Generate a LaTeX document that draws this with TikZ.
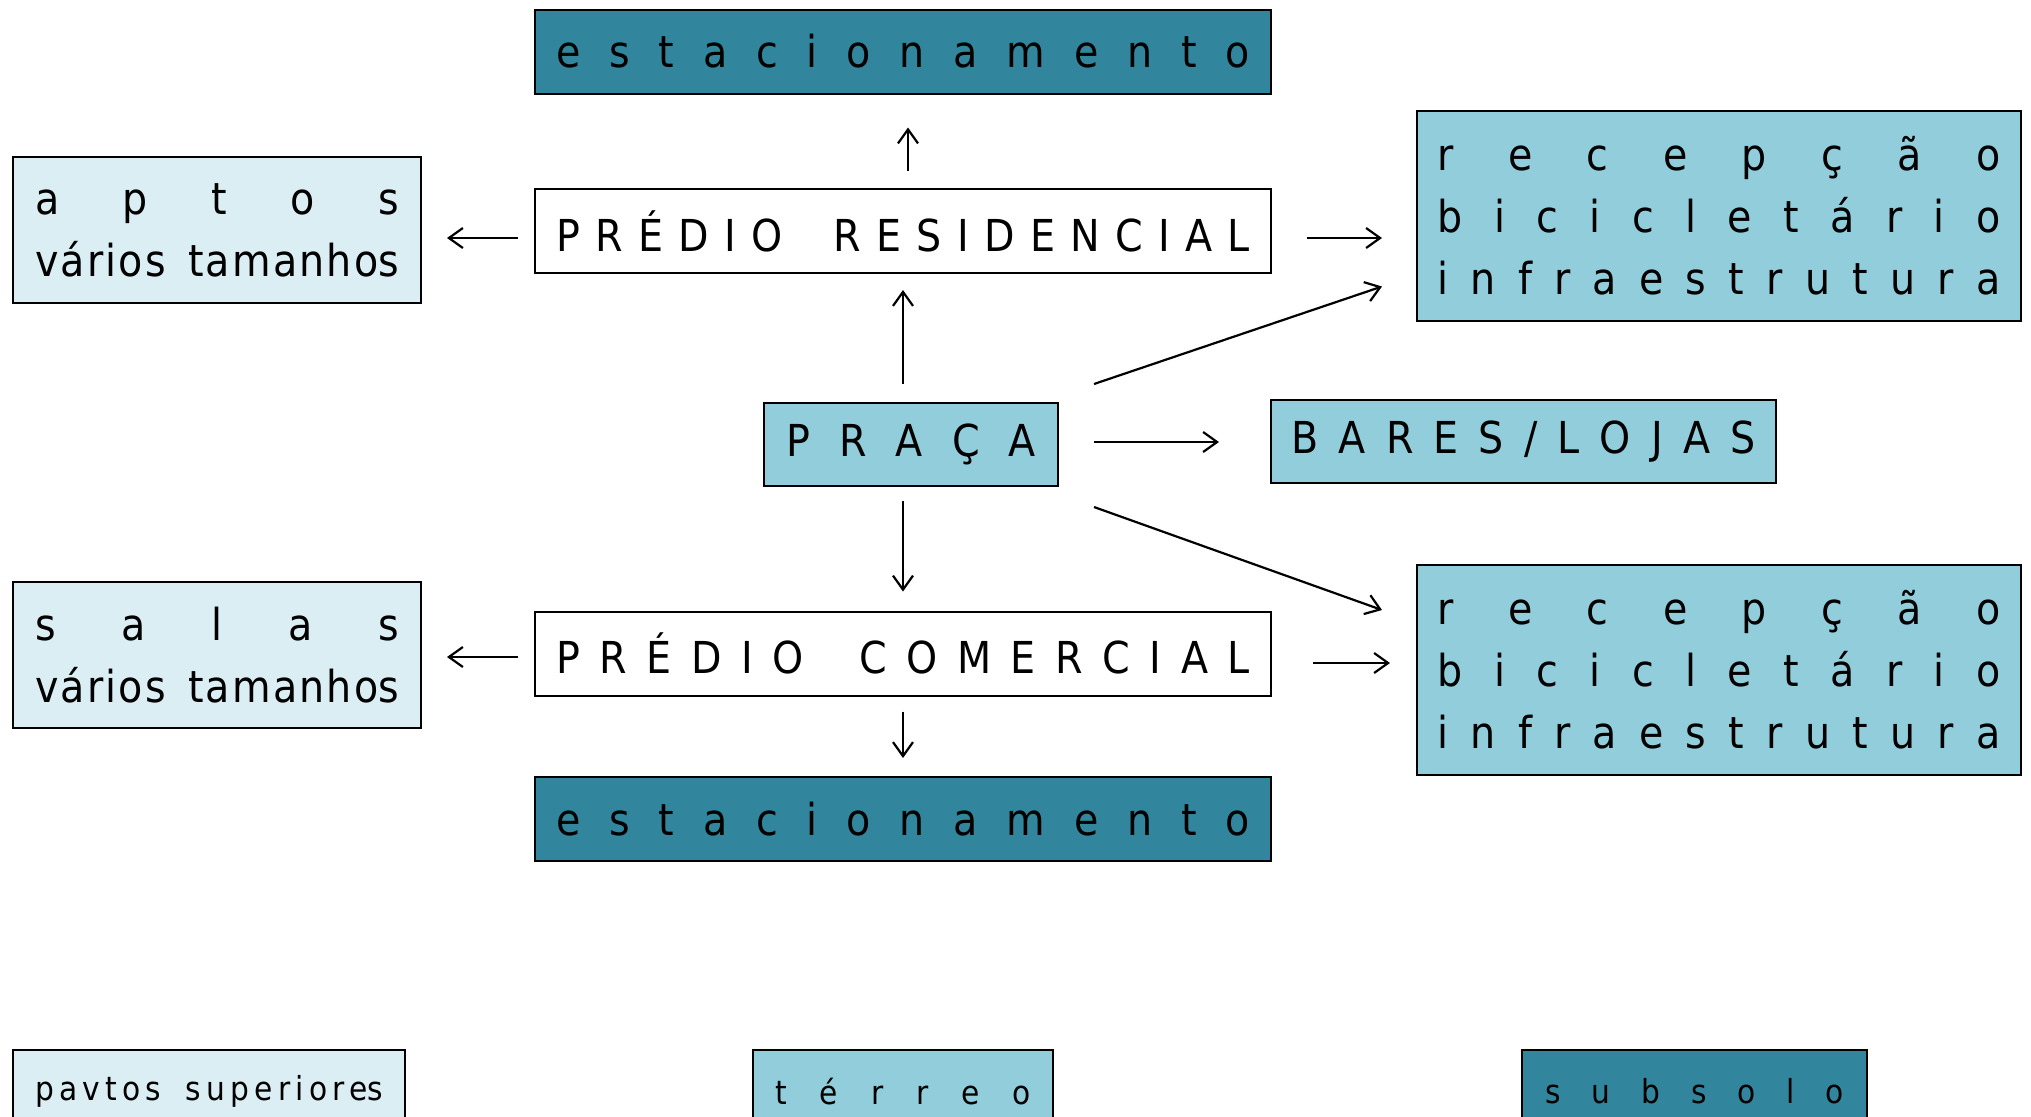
\documentclass[tikz,border=0pt]{standalone}
\usepackage{fontspec}
\setmainfont{DejaVu Sans Condensed}
\usetikzlibrary{arrows.meta,positioning}
\definecolor{subsolo}{HTML}{31859C}
\definecolor{terreo}{HTML}{92CDDC}
\definecolor{pavtos}{HTML}{DBEEF4}
\newcommand{\spread}[2]{\makebox[#1][s]{#2}}
\newcommand{\tracked}[2]{{\addfontfeature{LetterSpace=#1}#2}}

\begin{document}
\begin{tikzpicture}[x=0.5pt, y=-0.5pt, every node/.style={align=center, draw, line width=1pt, inner sep=0pt, font=\fontsize{22}{31}\selectfont},
  arr/.style={-{Straight Barb[length=7pt,width=10pt]}, line width=1.1pt},
  lvlsub/.style={fill=subsolo}, lvlter/.style={fill=terreo}, lvlsup/.style={fill=pavtos},
  wide/.style={minimum width=368pt, minimum height=42pt}, side/.style={minimum width=204pt, minimum height=73pt},
  recbox/.style={lvlter, minimum width=302pt, minimum height=105pt}, legend/.style={minimum height=41.5pt, font=\fontsize{16.5}{20}\selectfont}]
\clip (0,0) rectangle (2031,1116);
\node[wide, lvlsub] (est1) at (903,51.5) {\spread{347pt}{e s t a c i o n a m e n t o}};
\node[wide, fill=white] (res) at (903,231) {\spread{347pt}{P R É D I O\hspace{18pt} R E S I D E N C I A L}};
\node[side, lvlsup] (aptos) at (217,230) {\spread{182pt}{a p t o s}\\\spread{182pt}{\tracked{5}{vários tamanho}s}};
\node[recbox] (rec1) at (1719,215.5) {\spread{281.5pt}{r e c e p ç ã o}\\\spread{281.5pt}{b i c i c l e t á r i o}\\\spread{281.5pt}{i n f r a e s t r u t u r a}};
\node[lvlter, minimum width=147pt, minimum height=41.5pt] (praca) at (911,444.5) {\spread{125pt}{P R A Ç A}};
\node[lvlter, minimum width=252.5pt, minimum height=41.5pt] (bares) at (1523.5,441.5) {\spread{232pt}{B A R E S / L O J A S}};
\node[side, lvlsup] (salas) at (217,655) {\spread{182pt}{s a l a s}\\\spread{182pt}{\tracked{5}{vários tamanho}s}};
\node[wide, fill=white] (com) at (903,653.5) {\spread{347pt}{P R É D I O\hspace{18pt} C O M E R C I A L}};
\node[recbox] (rec2) at (1719,670) {\spread{281.5pt}{r e c e p ç ã o}\\\spread{281.5pt}{b i c i c l e t á r i o}\\\spread{281.5pt}{i n f r a e s t r u t u r a}};
\node[wide, lvlsub] (est2) at (903,819) {\spread{347pt}{e s t a c i o n a m e n t o}};
% legenda
\node[legend, lvlsup, minimum width=196pt] (lsup) at (209,1091.5) {\spread{174pt}{\tracked{16}{pavtos superiore}s}};
\node[legend, lvlter, minimum width=150pt] (lter) at (903,1091.5) {\spread{127.5pt}{t é r r e o}};
\node[legend, lvlsub, minimum width=172.5pt] (lsub) at (1694.5,1091.5) {\spread{149pt}{s u b s o l o}};
% conexoes
\draw[arr] ([shift={(5,-17)}]res.north) -- ([shift={(5,33)}]est1.south);
\draw[arr] ([shift={(-16,7)}]res.west) -- ([shift={(25,8)}]aptos.east);
\draw[arr] ([shift={(35,7)}]res.east) -- ([shift={(-34,22.5)}]rec1.west);
\draw[arr] ([shift={(-8,-18)}]praca.north) -- ([shift={(0,16)}]res.south);
\draw[arr] ([shift={(35,-18)}]praca.north east) -- ([shift={(-34,-35)}]rec1.south west);
\draw[arr] ([shift={(35,-2.5)}]praca.east) -- ([shift={(-51,0.5)}]bares.west);
\draw[arr] ([shift={(35,20)}]praca.south east) -- ([shift={(-34,46)}]rec2.north west);
\draw[arr] ([shift={(-8,14)}]praca.south) -- ([shift={(0,-19)}]com.north);
\draw[arr] ([shift={(-16,3.5)}]com.west) -- ([shift={(25,2)}]salas.east);
\draw[arr] ([shift={(41,9.5)}]com.east) -- ([shift={(-26,-7)}]rec2.west);
\draw[arr] ([shift={(0,15)}]com.south) -- ([shift={(0,-18)}]est2.north);
\end{tikzpicture}
\end{document}
